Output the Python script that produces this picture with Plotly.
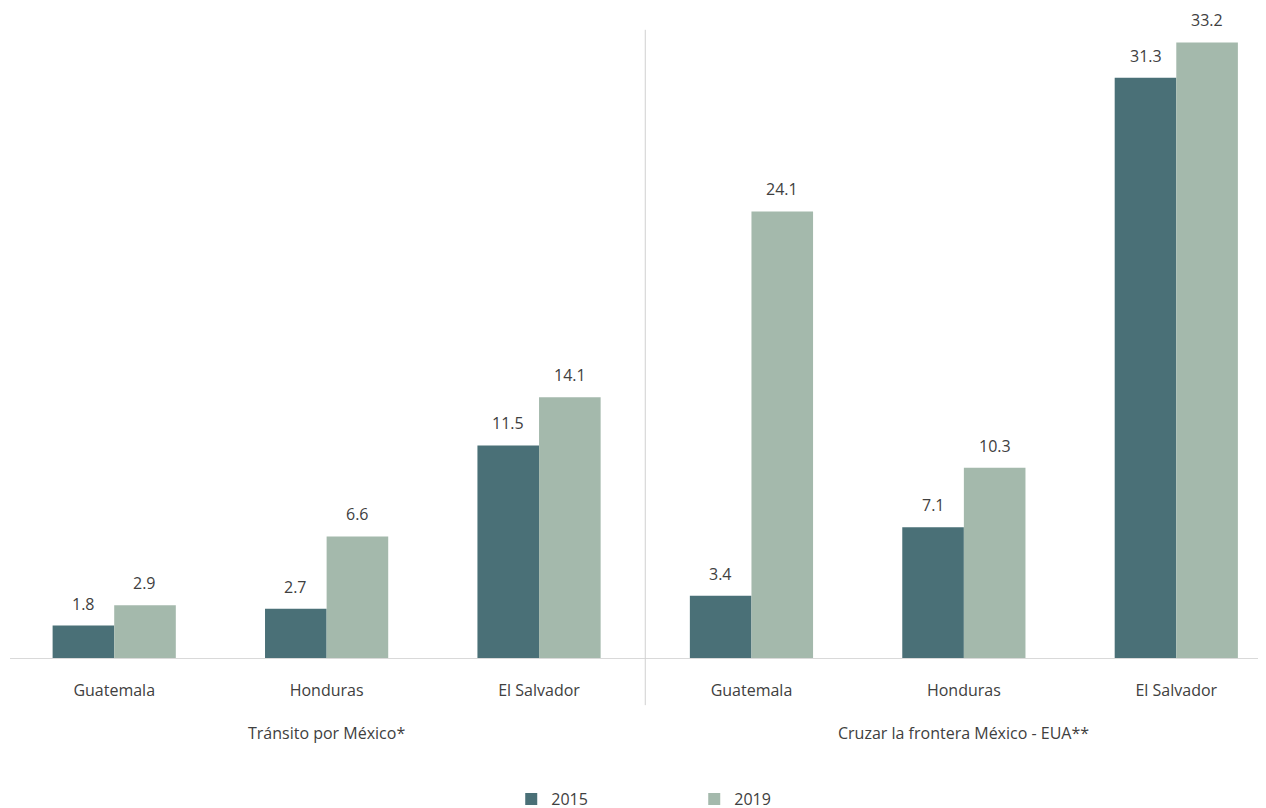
import plotly.graph_objects as go

countries = ["Guatemala", "Honduras", "El Salvador", "Guatemala", "Honduras", "El Salvador"]
groups = ["Tránsito por México*", "Cruzar la frontera México - EUA**"]
years = ["2015", "2019"]
values_2015 = [1.8, 2.7, 11.5, 3.4, 7.1, 31.3]
values_2019 = [2.9, 6.6, 14.1, 24.1, 10.3, 33.2]
colors = ["#4a7077", "#a4b9ac"]

xpos = list(range(len(countries)))
FONT = "Open Sans, sans-serif"
TXT = "#404040"
FS = 16

fig = go.Figure()
for name, vals, col in zip(years, [values_2015, values_2019], colors):
    fig.add_trace(go.Bar(
        x=xpos, y=vals, name=name, marker=dict(color=col, line=dict(width=0)),
        hoverinfo="x+y",
    ))

# value labels above bars
for vals, shift in zip([values_2015, values_2019], [-30.7, 30.7]):
    for xi, v in zip(xpos, vals):
        fig.add_annotation(x=xi, y=v, xref="x", yref="y", text=f"{v:.1f}",
                           showarrow=False, xshift=shift, yshift=9, yanchor="bottom",
                           font=dict(size=FS, color=TXT, family=FONT))

fig.update_layout(
    width=1266, height=808,
    margin=dict(l=0, r=0, t=1, b=157, autoexpand=False),
    paper_bgcolor="white", plot_bgcolor="white",
    barmode="group", bargap=0.42, bargroupgap=0,
    font=dict(family=FONT, size=FS, color=TXT),
    showlegend=True,
    legend=dict(orientation="h", xref="container", yref="container",
                x=0.3975, xanchor="left", y=0.021, yanchor="middle",
                entrywidth=138, entrywidthmode="pixels",
                font=dict(size=FS, color=TXT, family=FONT), traceorder="normal"),
    xaxis=dict(range=[-0.5, 5.46], tickmode="array", tickvals=xpos, ticktext=countries,
               showgrid=False, zeroline=False, showline=False, ticks="", automargin=False,
               tickfont=dict(size=FS, color=TXT, family=FONT), ticklabelstandoff=20),
    yaxis=dict(range=[0, 35], visible=False, showgrid=False, zeroline=False, automargin=False),
)

# baseline
fig.add_shape(type="line", xref="paper", yref="y", x0=0.0016, x1=1, y0=0, y1=0,
              line=dict(color="#d9d9d9", width=2))
# separator between groups
fig.add_shape(type="line", xref="x", yref="paper", x0=2.5, x1=2.5, y0=-0.071, y1=0.968,
              line=dict(color="#d0d0d0", width=1))

# group labels
for gx, label in zip([1, 4], groups):
    fig.add_annotation(x=gx, xref="x", y=-0.1145, yref="paper", text=label,
                       showarrow=False, yanchor="middle",
                       font=dict(size=FS, color=TXT, family=FONT))

fig.write_html("out.html")
